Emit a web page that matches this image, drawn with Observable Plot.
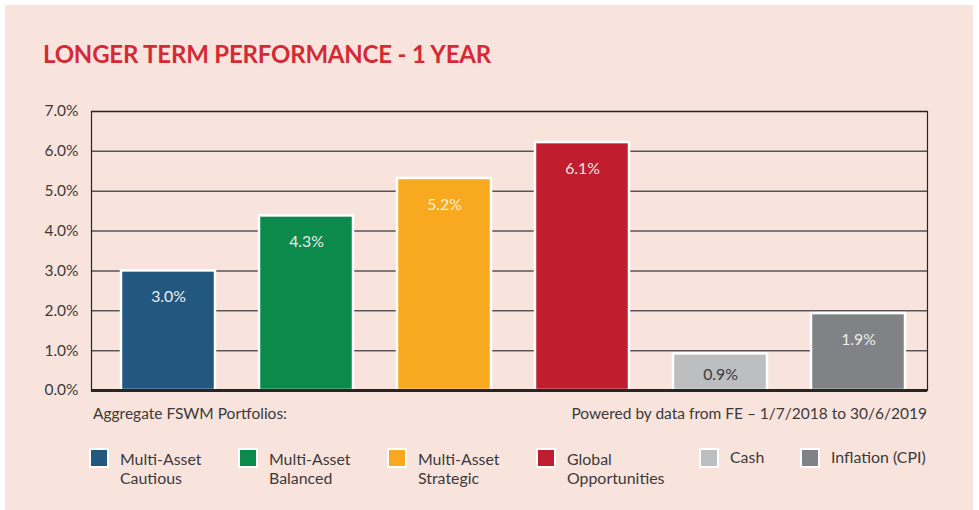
<!DOCTYPE html>
<html>
<head>
<meta charset="utf-8">
<script src="https://cdn.jsdelivr.net/npm/d3@7"></script>
<script src="https://cdn.jsdelivr.net/npm/@observablehq/plot@0.6"></script>
<style>
  html, body { margin: 0; padding: 0; background: #ffffff; }
  body { width: 979px; height: 510px; position: relative; overflow: hidden; font-family: Lato, "Open Sans", sans-serif; }
  #card { position: absolute; left: 5px; top: 5px; width: 968px; height: 505px; background: #F9E4DD; }
  #title { position: absolute; left: 43px; top: 39px; font-size: 24px; font-weight: 700; color: #D42A36; letter-spacing: -0.2px; white-space: nowrap; }
  #chart { position: absolute; left: 0; top: 95px; }
  .note { position: absolute; font-size: 15.5px; color: #3a3a3a; white-space: nowrap; }
  .leg { position: absolute; font-size: 15.9px; color: #3a3a3a; line-height: 19px; white-space: nowrap; }
  .sw { position: absolute; width: 16px; height: 16px; border: 2px solid #ffffff; }
</style>
</head>
<body>
<div id="card"></div>
<div id="title">LONGER TERM PERFORMANCE - 1 YEAR</div>
<div id="chart"></div>
<div class="note" style="left:93px; top:404px;">Aggregate FSWM Portfolios:</div>
<div class="note" id="powered" style="right:52px; top:404px;">Powered by data from FE – 1/7/2018 to 30/6/2019</div>
<div id="legend"></div>
<script>
const categories = ["Multi-Asset Cautious", "Multi-Asset Balanced", "Multi-Asset Strategic", "Global Opportunities", "Cash", "Inflation (CPI)"];
const legendLines = [["Multi-Asset", "Cautious"], ["Multi-Asset", "Balanced"], ["Multi-Asset", "Strategic"], ["Global", "Opportunities"], ["Cash"], ["Inflation (CPI)"]];
const values = [3.0, 4.38, 5.32, 6.22, 0.92, 1.93];
const valueLabels = ["3.0%", "4.3%", "5.2%", "6.1%", "0.9%", "1.9%"];
const colors = ["#22577F", "#0B8A4B", "#F9A91F", "#C01E2E", "#BCBEC0", "#808285"];
const labelColors = ["#EDEDED", "#EDEDED", "#FBEFDD", "#F3E3E3", "#3a3a3a", "#EDEDED"];
const yTicks = [0, 1, 2, 3, 4, 5, 6, 7];
const yTickLabels = ["0.0%", "1.0%", "2.0%", "3.0%", "4.0%", "5.0%", "6.0%", "7.0%"];

const data = categories.map((c, i) => ({cat: c, value: values[i], label: valueLabels[i], color: colors[i], lc: labelColors[i]}));
const tallData = data.filter(d => d.cat !== "Cash");
const shortData = data.filter(d => d.cat === "Cash");

const chart = Plot.plot({
  width: 979,
  height: 310,
  marginLeft: 91,
  marginRight: 52,
  marginTop: 16,
  marginBottom: 15,
  style: {background: "transparent", fontFamily: "Lato, sans-serif", fontSize: "15.5px", color: "#3a3a3a"},
  x: {domain: categories, paddingInner: 0.32, paddingOuter: 0.19, range: [94.5, 931], axis: null},
  y: {domain: [0, 7], ticks: yTicks},
  marks: [
    Plot.ruleY(yTicks.slice(1), {stroke: "#5c5454", strokeWidth: 1.5}),
    Plot.barY(data, {x: "cat", y: "value", fill: "color", stroke: "#ffffff", strokeWidth: 2.5}),
    Plot.text(tallData, {x: "cat", y: "value", text: "label", fill: "lc", dy: 26, fontSize: 15.8}),
    Plot.text(shortData, {x: "cat", y: "value", text: "label", fill: "lc", dy: 21, fontSize: 15.8}),
    Plot.ruleY([0], {stroke: "#2a2525", strokeWidth: 3}),
    Plot.axisY({ticks: yTicks, tickFormat: d => yTickLabels[yTicks.indexOf(d)], tickSize: 0, tickPadding: 13, label: null, fontSize: 15.5, fill: "#3a3a3a"}),
    Plot.frame({stroke: "#2a2525", strokeWidth: 1.2, fill: "none"}),
    Plot.axisY({ticks: [], tickSize: 0, line: true, label: null, stroke: "#2a2525", strokeWidth: 3})
  ]
});
document.getElementById("chart").appendChild(chart);

const legX = [89, 238, 387, 536, 699, 800];
const leg = document.getElementById("legend");
categories.forEach((c, i) => {
  const sw = document.createElement("div");
  sw.className = "sw";
  sw.style.left = legX[i] + "px";
  sw.style.top = "448px";
  sw.style.background = colors[i];
  leg.appendChild(sw);
  const t = document.createElement("div");
  t.className = "leg";
  t.style.left = (legX[i] + 31) + "px";
  t.style.top = (legendLines[i].length > 1 ? 449 : 447) + "px";
  t.innerHTML = legendLines[i].join("<br>");
  leg.appendChild(t);
});
</script>
</body>
</html>
